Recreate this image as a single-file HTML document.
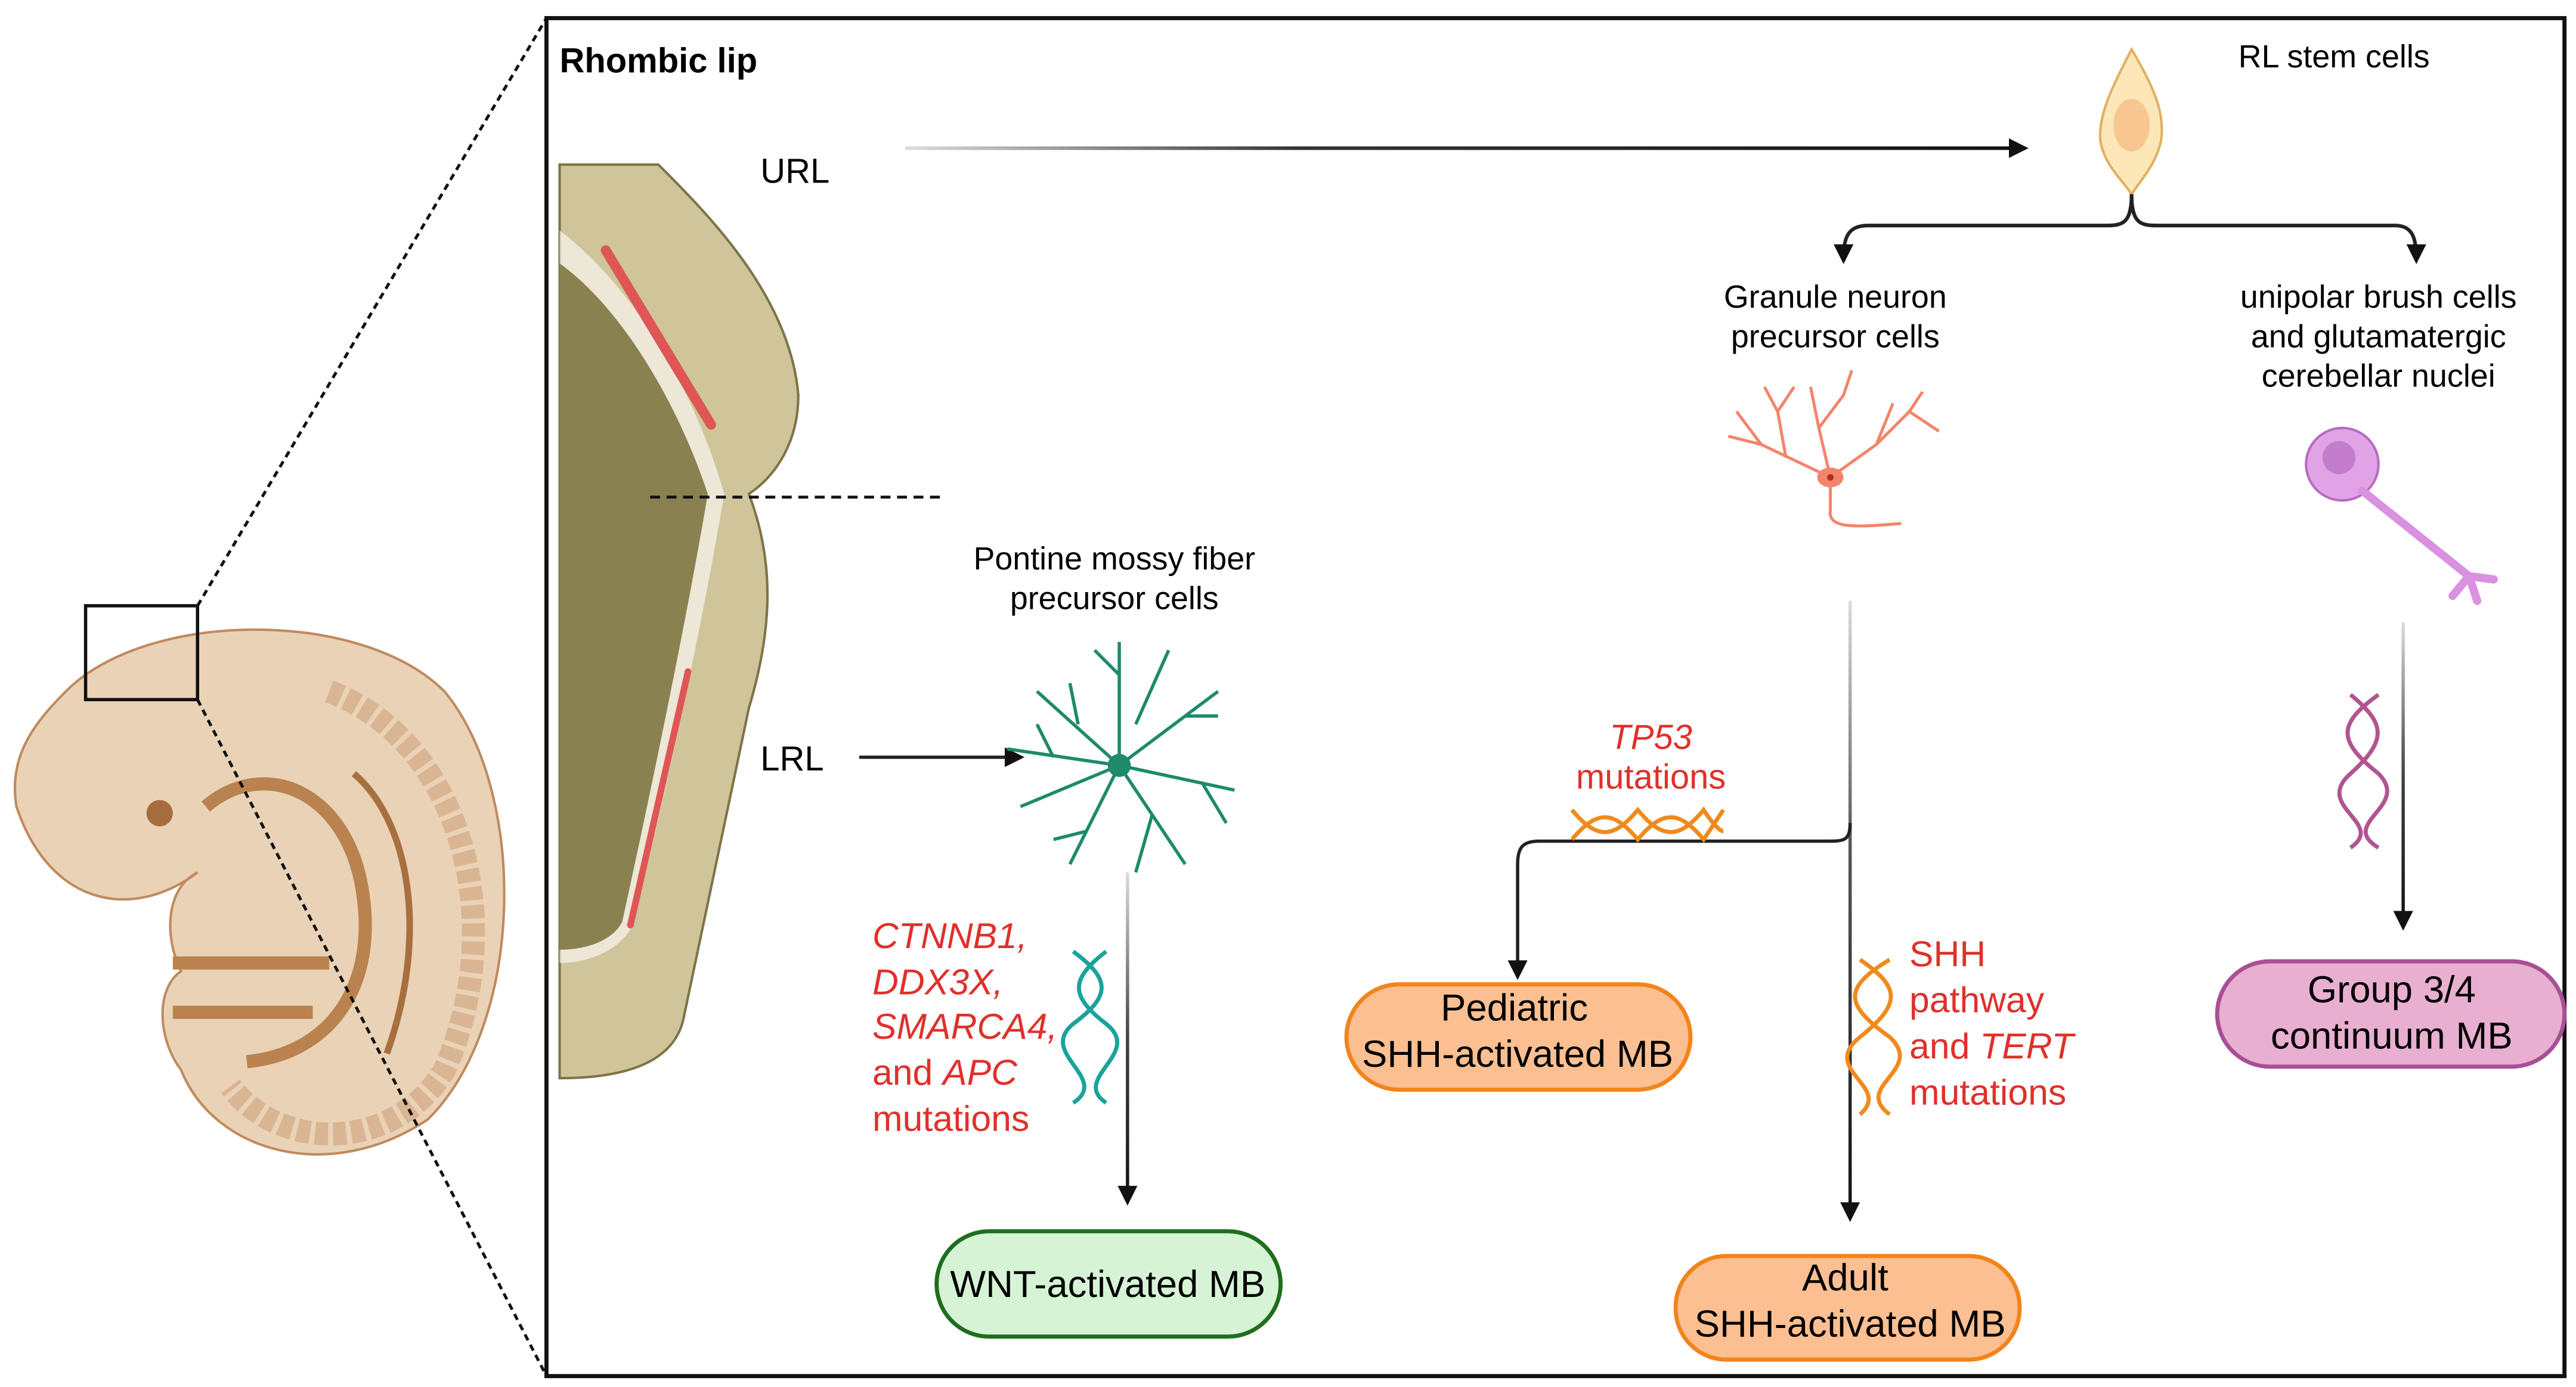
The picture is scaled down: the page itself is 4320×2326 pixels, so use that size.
<!DOCTYPE html>
<html><head><meta charset="utf-8"><style>
html,body{margin:0;padding:0;background:#fff;}
svg{display:block;}
text{font-family:"Liberation Sans",sans-serif;}
</style></head><body>
<svg width="4320" height="2326" viewBox="0 0 1565 842.6" xmlns="http://www.w3.org/2000/svg">
<defs>
<marker id="ah2" viewBox="0 0 10 10" markerWidth="12" markerHeight="12" refX="8" refY="5" orient="auto" markerUnits="userSpaceOnUse"><path d="M0,0 L10,5 L0,10 Z" fill="#111"/></marker>
<linearGradient id="g1" gradientUnits="userSpaceOnUse" x1="550" y1="0" x2="1230" y2="0"><stop offset="0" stop-color="#ddd"/><stop offset="0.35" stop-color="#333"/><stop offset="1" stop-color="#111"/></linearGradient>
<linearGradient id="g2" gradientUnits="userSpaceOnUse" x1="0" y1="530" x2="0" y2="730"><stop offset="0" stop-color="#ddd"/><stop offset="0.5" stop-color="#444"/><stop offset="1" stop-color="#111"/></linearGradient>
<linearGradient id="g3" gradientUnits="userSpaceOnUse" x1="0" y1="365" x2="0" y2="740"><stop offset="0" stop-color="#ddd"/><stop offset="0.4" stop-color="#555"/><stop offset="1" stop-color="#111"/></linearGradient>
<linearGradient id="g4" gradientUnits="userSpaceOnUse" x1="0" y1="378" x2="0" y2="563"><stop offset="0" stop-color="#ddd"/><stop offset="0.5" stop-color="#444"/><stop offset="1" stop-color="#111"/></linearGradient>
</defs>
<!-- frame -->
<rect x="332" y="11" width="1226" height="825" fill="none" stroke="#111" stroke-width="2.5"/>
<!-- embryo -->
<path d="M40,420 C90,370 220,370 270,420 C320,480 320,620 260,680 C200,720 130,700 110,650 C95,630 95,600 110,590 C100,570 100,540 120,530 C80,560 30,550 10,490 C5,460 20,440 40,420 Z" fill="#ead2b6" stroke="#c08a5e" stroke-width="1.5"/>
<path d="M200,420 C280,450 310,560 270,650 C240,700 170,700 140,660" fill="none" stroke="#d9b594" stroke-width="14" stroke-dasharray="8,3"/>
<path d="M125,490 C160,460 210,480 220,540 C230,600 200,640 150,645 M105,585 L200,585 M105,615 L190,615" fill="none" stroke="#b9824f" stroke-width="8"/>
<path d="M215,470 C250,500 260,570 235,640" fill="none" stroke="#a8703f" stroke-width="4"/>
<circle cx="97" cy="494" r="8" fill="#a56c3c"/>
<rect x="52" y="368" width="68" height="57" fill="none" stroke="#111" stroke-width="2"/>
<line x1="120" y1="368" x2="332" y2="11" stroke="#111" stroke-width="1.8" stroke-dasharray="4,3"/>
<line x1="120" y1="425" x2="332" y2="836" stroke="#111" stroke-width="1.8" stroke-dasharray="4,3"/>
<!-- rhombic lip section -->
<path d="M340,100 L400,100 C430,130 480,180 485,240 C485,270 470,290 455,300 C470,340 470,380 455,430 C440,500 425,570 415,620 C410,640 390,655 340,655 Z" fill="#cfc49a" stroke="#7d7448" stroke-width="1.5"/>
<path d="M340,140 C380,170 420,230 440,300 C430,360 410,460 385,560 C380,575 360,585 340,585 Z" fill="#fff" opacity="0.6"/>
<path d="M340,160 C375,185 410,240 430,300 C420,360 400,460 378,560 C372,572 355,577 340,577 Z" fill="#8a8150"/>
<line x1="368" y1="152" x2="432" y2="258" stroke="#e05555" stroke-width="6" stroke-linecap="round"/>
<line x1="418" y1="408" x2="383" y2="562" stroke="#e05555" stroke-width="4" stroke-linecap="round"/>
<line x1="395" y1="302" x2="572" y2="302" stroke="#111" stroke-width="1.8" stroke-dasharray="6,4"/>
<text x="340" y="44" font-size="21" font-weight="bold">Rhombic lip</text>
<text x="462" y="111" font-size="21">URL</text>
<text x="462" y="468" font-size="21">LRL</text>
<line x1="550" y1="90" x2="1230" y2="90" stroke="url(#g1)" stroke-width="2.2" marker-end="url(#ah2)"/>
<line x1="522" y1="460" x2="620" y2="460" stroke="#222" stroke-width="2" marker-end="url(#ah2)"/>
<text x="677" y="346" font-size="19.5" text-anchor="middle">Pontine mossy fiber</text>
<text x="677" y="370" font-size="19.5" text-anchor="middle">precursor cells</text>
<!-- green neuron -->
<g stroke="#1e8a6a" stroke-width="2" fill="none">
<path d="M680,465 L680,390 M680,410 L665,395 M680,465 L740,420 M720,435 L740,435 M680,465 L750,480 M730,475 L745,500 M680,465 L720,525 M700,495 L690,530 M680,465 L650,525 M660,505 L640,510 M680,465 L612,455 M640,460 L630,440 M680,465 L630,420 M655,440 L650,415 M680,465 L620,490 M690,440 L710,395"/>
</g>
<circle cx="680" cy="465" r="7" fill="#1e8a6a"/>
<line x1="685" y1="530" x2="685" y2="730" stroke="url(#g2)" stroke-width="2" marker-end="url(#ah2)"/>
<g font-size="22" fill="#e0302a">
<text x="530" y="576" font-style="italic">CTNNB1,</text>
<text x="530" y="604" font-style="italic">DDX3X,</text>
<text x="530" y="631" font-style="italic">SMARCA4,</text>
<text x="530" y="659">and <tspan font-style="italic">APC</tspan></text>
<text x="530" y="687">mutations</text>
</g>
<path d="M652,578 C675,595 675,605 652,622 C630,640 675,655 652,670 M672,578 C650,595 650,605 672,622 C695,640 650,655 672,670" fill="none" stroke="#1aa39a" stroke-width="2.5"/>
<rect x="569" y="748" width="209" height="64" rx="32" fill="#d6f3d6" stroke="#1f6e1f" stroke-width="2.5"/>
<text x="673" y="788" font-size="23" text-anchor="middle">WNT-activated MB</text>
<!-- RL stem -->
<path d="M1295,30 C1310,55 1315,70 1313,85 C1310,100 1300,110 1295,118 C1290,110 1278,100 1276,85 C1275,70 1282,55 1295,30 Z" fill="#fde7b8" stroke="#e0b060" stroke-width="1.5"/>
<ellipse cx="1295" cy="76" rx="11" ry="16" fill="#f8c690"/>
<text x="1418" y="41" font-size="19.5" text-anchor="middle">RL stem cells</text>
<path d="M1295,118 C1295,135 1290,137 1280,137 L1135,137 C1122,137 1120,145 1120,158" fill="none" stroke="#222" stroke-width="2.2" marker-end="url(#ah2)"/>
<path d="M1295,118 C1295,135 1300,137 1310,137 L1455,137 C1466,137 1468,145 1468,158" fill="none" stroke="#222" stroke-width="2.2" marker-end="url(#ah2)"/>
<text x="1115" y="187" font-size="19.5" text-anchor="middle">Granule neuron</text>
<text x="1115" y="211" font-size="19.5" text-anchor="middle">precursor cells</text>
<text x="1445" y="187" font-size="19.5" text-anchor="middle">unipolar brush cells</text>
<text x="1445" y="211" font-size="19.5" text-anchor="middle">and glutamatergic</text>
<text x="1445" y="235" font-size="19.5" text-anchor="middle">cerebellar nuclei</text>
<!-- granule neuron -->
<g stroke="#f4846a" stroke-width="1.8" fill="none">
<path d="M1112,290 L1070,270 L1055,250 M1070,270 L1050,265 M1085,278 L1080,250 L1072,235 M1080,250 L1090,235 M1112,290 L1105,260 L1100,235 M1105,260 L1120,240 L1125,225 M1112,290 L1140,270 L1160,250 L1168,238 M1160,250 L1178,262 M1140,270 L1150,245 M1112,290 L1112,310 C1110,322 1130,320 1155,318"/>
</g>
<ellipse cx="1112" cy="290" rx="8" ry="6" fill="#f4846a"/><circle cx="1112" cy="290" r="2" fill="#b03020"/>
<!-- UBC -->
<circle cx="1423" cy="282" r="22" fill="#e1a3e6" stroke="#b56cc0" stroke-width="1.5"/>
<circle cx="1421" cy="278" r="10" fill="#c47ccc"/>
<path d="M1435,298 L1500,350 L1515,352 M1500,350 L1505,365 M1500,350 L1490,362" stroke="#d991e0" stroke-width="5" fill="none" stroke-linecap="round"/>
<!-- granule line -->
<line x1="1124" y1="365" x2="1124" y2="740" stroke="url(#g3)" stroke-width="2" marker-end="url(#ah2)"/>
<path d="M1124,500 C1124,511 1120,511 1110,511 L935,511 C925,511 922,515 922,525 L922,593" fill="none" stroke="#222" stroke-width="2" marker-end="url(#ah2)"/>
<text x="1003" y="455" font-size="21" fill="#e0302a" font-style="italic" text-anchor="middle">TP53</text>
<text x="1003" y="479" font-size="21" fill="#e0302a" text-anchor="middle">mutations</text>
<path d="M955,492 C970,510 980,510 995,492 C1010,510 1020,510 1035,492 C1040,500 1045,505 1047,505 M955,510 C970,492 980,492 995,510 C1010,492 1020,492 1035,510 L1047,492" fill="none" stroke="#f08a1c" stroke-width="2.5"/>
<rect x="818" y="598" width="209" height="64" rx="32" fill="#fbbf91" stroke="#f2841c" stroke-width="2.5"/>
<text x="920" y="620" font-size="23" text-anchor="middle">Pediatric</text>
<text x="922" y="648" font-size="23" text-anchor="middle">SHH-activated MB</text>
<path d="M1130,583 C1155,600 1155,610 1130,630 C1105,650 1150,660 1130,677 M1148,583 C1120,600 1120,610 1148,630 C1170,650 1125,660 1148,677" fill="none" stroke="#f08a1c" stroke-width="2.5"/>
<g font-size="22" fill="#e0302a">
<text x="1160" y="587">SHH</text>
<text x="1160" y="615">pathway</text>
<text x="1160" y="643">and <tspan font-style="italic">TERT</tspan></text>
<text x="1160" y="671">mutations</text>
</g>
<rect x="1018" y="763" width="209" height="63" rx="31" fill="#fbbf91" stroke="#f2841c" stroke-width="2.5"/>
<text x="1121" y="784" font-size="23" text-anchor="middle">Adult</text>
<text x="1124" y="812" font-size="23" text-anchor="middle">SHH-activated MB</text>
<!-- purple -->
<path d="M1428,422 C1450,440 1450,450 1428,470 C1405,490 1450,500 1428,515 M1445,422 C1420,440 1420,450 1445,470 C1465,490 1420,500 1445,515" fill="none" stroke="#b0558f" stroke-width="2.5"/>
<line x1="1460" y1="378" x2="1460" y2="563" stroke="url(#g4)" stroke-width="2" marker-end="url(#ah2)"/>
<rect x="1347" y="584" width="211" height="64" rx="32" fill="#e8afd0" stroke="#a84f96" stroke-width="2.5"/>
<text x="1453" y="609" font-size="23" text-anchor="middle">Group 3/4</text>
<text x="1453" y="637" font-size="23" text-anchor="middle">continuum MB</text>
</svg>
</body></html>
